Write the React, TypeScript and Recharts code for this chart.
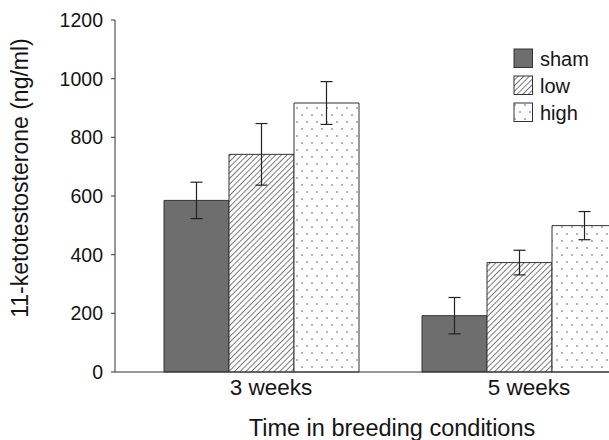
import React from "react";
import {
  BarChart,
  Bar,
  XAxis,
  YAxis,
  ErrorBar,
  Legend,
  Label,
} from "recharts";

const categories = ["3 weeks", "5 weeks"];
const seriesNames = ["sham", "low", "high"];
const shamValues = [585, 192];
const shamErrors = [62, 62];
const lowValues = [742, 373];
const lowErrors = [105, 42];
const highValues = [917, 499];
const highErrors = [73, 48];
const yTicks = [0, 200, 400, 600, 800, 1000, 1200];

const data = categories.map((period, i) => ({
  period,
  sham: shamValues[i],
  shamErr: shamErrors[i],
  low: lowValues[i],
  lowErr: lowErrors[i],
  high: highValues[i],
  highErr: highErrors[i],
}));

const FONT = "'Liberation Sans', Arial, sans-serif";
const INK = "#141414";

function XTick(props: any) {
  const { x, y, payload } = props;
  return (
    <text x={x + 10} y={y + 23} textAnchor="middle" fontSize={22.5} fill={INK} fontFamily={FONT}>
      {payload.value}
    </text>
  );
}

function LegendBox({ payload }: any) {
  const items = [...(payload || [])].sort(
    (a: any, b: any) => seriesNames.indexOf(a.value) - seriesNames.indexOf(b.value)
  );
  return (
    <div style={{ fontFamily: FONT, color: INK }}>
      {items.map((entry: any) => (
        <div key={entry.value} style={{ display: "flex", alignItems: "center", height: 27 }}>
          <svg width={21} height={21} style={{ marginRight: 6 }}>
            <rect x={1} y={1} width={18.5} height={18.5} fill={entry.color} stroke="#333" strokeWidth={1} />
          </svg>
          <span style={{ fontSize: 20, lineHeight: "20px" }}>{entry.value}</span>
        </div>
      ))}
    </div>
  );
}

export default function App() {
  return (
    <div style={{ position: "absolute", left: 0, top: 0, width: 609, height: 440, overflow: "hidden", background: "#fff" }}>
      <BarChart
        width={650}
        height={440}
        data={data}
        margin={{ top: 20, right: 2, bottom: 0, left: 0 }}
        barCategoryGap={32}
        barGap={0}
      >
        <defs>
          <pattern id="hatch" width="4" height="4" patternUnits="userSpaceOnUse" patternTransform="rotate(45)">
            <rect width="4" height="4" fill="#fff" />
            <line x1="0" y1="0" x2="0" y2="4" stroke="#444" strokeWidth="1.4" />
          </pattern>
          <pattern id="dots" width="10" height="14" patternUnits="userSpaceOnUse">
            <rect width="10" height="14" fill="#fff" />
            <circle cx="2" cy="3" r="0.8" fill="#555" />
            <circle cx="7" cy="10" r="0.8" fill="#555" />
          </pattern>
        </defs>
        <XAxis
          dataKey="period"
          height={68}
          padding={{ left: 17, right: 0 }}
          tickLine={false}
          tickSize={0}
          tickMargin={0}
          tick={<XTick />}
          axisLine={{ stroke: "#333", strokeWidth: 1 }}
        >
          <Label
            content={() => (
              <text x={392} y={436} textAnchor="middle" fontSize={23.5} fill={INK} fontFamily={FONT}>
                Time in breeding conditions
              </text>
            )}
          />
        </XAxis>
        <YAxis
          width={115}
          domain={[0, 1200]}
          ticks={yTicks}
          interval={0}
          tickSize={4}
          tickMargin={8}
          tick={{ fontSize: 19.5, fill: INK, fontFamily: FONT }}
          axisLine={{ stroke: "#333", strokeWidth: 1 }}
          tickLine={{ stroke: "#333", strokeWidth: 1 }}
        >
          <Label
            content={() => (
              <text
                x={20}
                y={178}
                transform="rotate(-90, 20, 178)"
                textAnchor="middle"
                dominantBaseline="central"
                fontSize={23}
                fill={INK}
                fontFamily={FONT}
              >
                11-ketotestosterone (ng/ml)
              </text>
            )}
          />
        </YAxis>
        <Legend
          layout="vertical"
          align="center"
          verticalAlign="middle"
          wrapperStyle={{ left: 513, top: 45, width: 100 }}
          content={<LegendBox />}
        />
        <Bar dataKey="sham" name="sham" fill="#6e6e6e" stroke="#333" strokeWidth={1} isAnimationActive={false}>
          <ErrorBar dataKey="shamErr" width={6} stroke="#222" strokeWidth={1.2} />
        </Bar>
        <Bar dataKey="low" name="low" fill="url(#hatch)" stroke="#333" strokeWidth={1} isAnimationActive={false}>
          <ErrorBar dataKey="lowErr" width={6} stroke="#222" strokeWidth={1.2} />
        </Bar>
        <Bar dataKey="high" name="high" fill="url(#dots)" stroke="#333" strokeWidth={1} isAnimationActive={false}>
          <ErrorBar dataKey="highErr" width={6} stroke="#222" strokeWidth={1.2} />
        </Bar>
      </BarChart>
    </div>
  );
}
